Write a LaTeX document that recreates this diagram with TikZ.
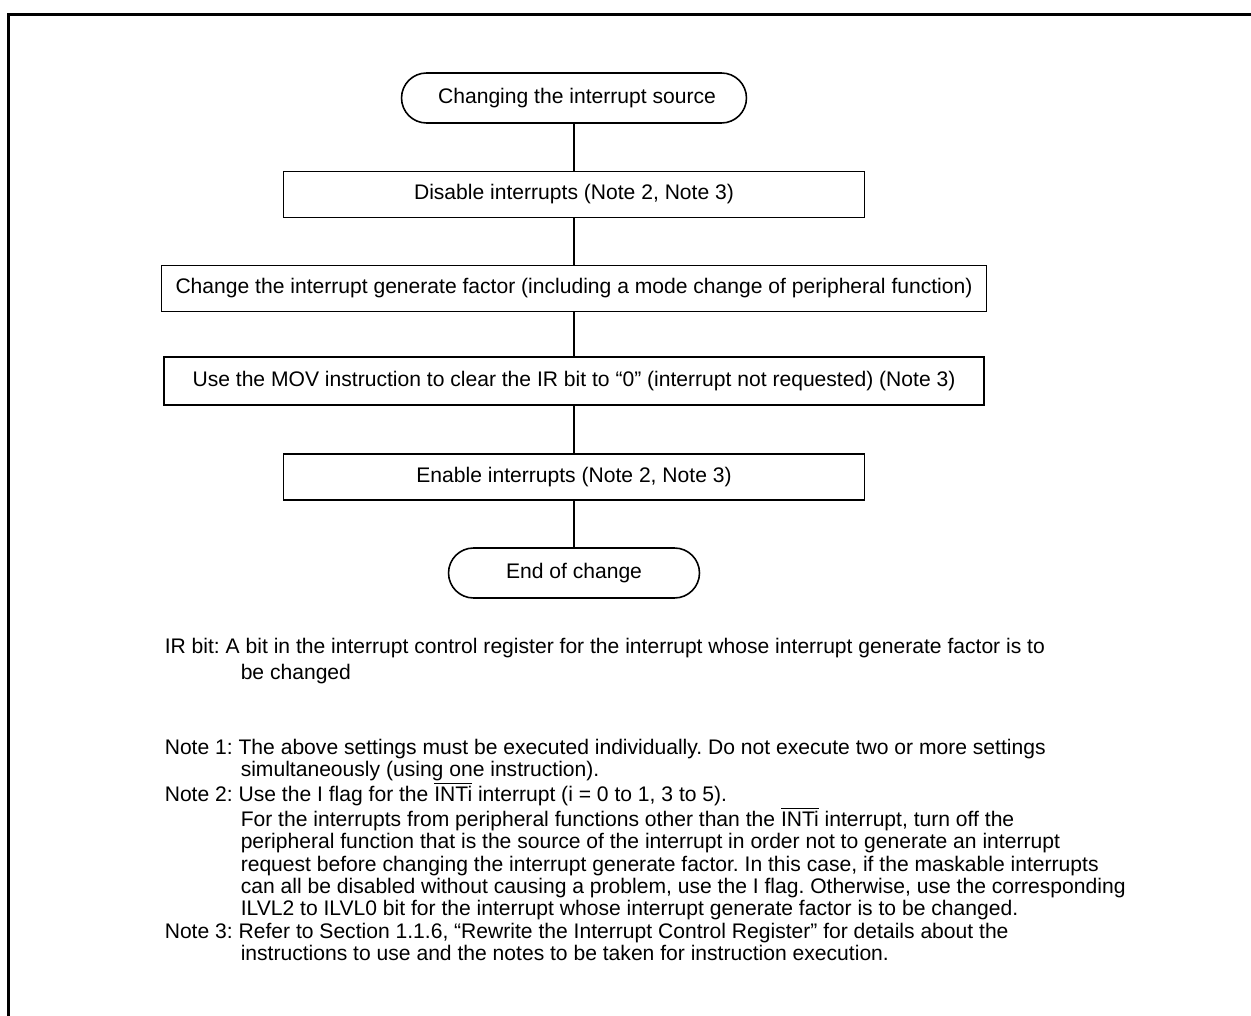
\documentclass[tikz,border=0pt]{standalone}
\usepackage{fontspec}
\setmainfont{Liberation Sans}
\usepackage{tikz}

\newcommand{\hang}{\hspace*{1.52cm}}
\newcommand{\inti}{$\overline{\mbox{INTi}}$}

\begin{document}
\frenchspacing
\begin{tikzpicture}[x=0.02cm, y=-0.02cm, line width=0.9pt,
    every node/.style={font=\fontsize{12}{14}\selectfont},
    stepbox/.style={draw, inner sep=0pt, minimum height=0.92cm},
    termbox/.style={draw, inner sep=0pt, minimum height=1cm, rounded corners=0.5cm},
    notetext/.style={anchor=north west, inner sep=0pt, align=left}]
  \useasboundingbox (0,0) rectangle (1251,1016);
  %frame
  \draw[line width=1.4pt] (8.5,1016) -- (8.5,14.5) -- (1251,14.5);
  %flow
  \node[termbox, minimum width=6.9cm] (start) at (574,98) {\hspace{0.12cm}Changing the interrupt source};
  \node[stepbox, minimum width=11.62cm] (disable) at (574,194.5) {Disable interrupts (Note 2, Note 3)};
  \node[stepbox, minimum width=16.5cm] (change) at (574,288.5) {Change the interrupt generate factor (including a mode change of peripheral function)};
  \node[stepbox, minimum width=16.4cm, minimum height=0.96cm] (clear) at (574,381) {Use the MOV instruction to clear the IR bit to “0” (interrupt not requested) (Note 3)};
  \node[stepbox, minimum width=11.62cm] (enable) at (574,477) {Enable interrupts (Note 2, Note 3)};
  \node[termbox, minimum width=5.02cm] (end) at (574,573) {End of change};
  \draw (start) -- (disable) -- (change) -- (clear) -- (enable) -- (end);
  %notes
  \node[notetext, font=\fontsize{12}{14.8}\selectfont] (irbit) at (164,637)
    {IR bit: A bit in the interrupt control register for the interrupt whose interrupt generate factor is to\\
     \hang be changed};
  \node[notetext, font=\fontsize{12}{12.75}\selectfont] (notes) at (164,738)
    {Note 1: The above settings must be executed individually. Do not execute two or more settings\\
     \hang simultaneously (using one instruction).\\
     Note 2: Use the I flag for the \inti{} interrupt (i = 0 to 1, 3 to 5).\\
     \hang For the interrupts from peripheral functions other than the \inti{} interrupt, turn off the\\
     \hang peripheral function that is the source of the interrupt in order not to generate an interrupt\\
     \hang request before changing the interrupt generate factor. In this case, if the maskable interrupts\\
     \hang can all be disabled without causing a problem, use the I flag. Otherwise, use the corresponding\\
     \hang ILVL2 to ILVL0 bit for the interrupt whose interrupt generate factor is to be changed.\\
     Note 3: Refer to Section 1.1.6, “Rewrite the Interrupt Control Register” for details about the\\
     \hang instructions to use and the notes to be taken for instruction execution.};
\end{tikzpicture}
\end{document}
